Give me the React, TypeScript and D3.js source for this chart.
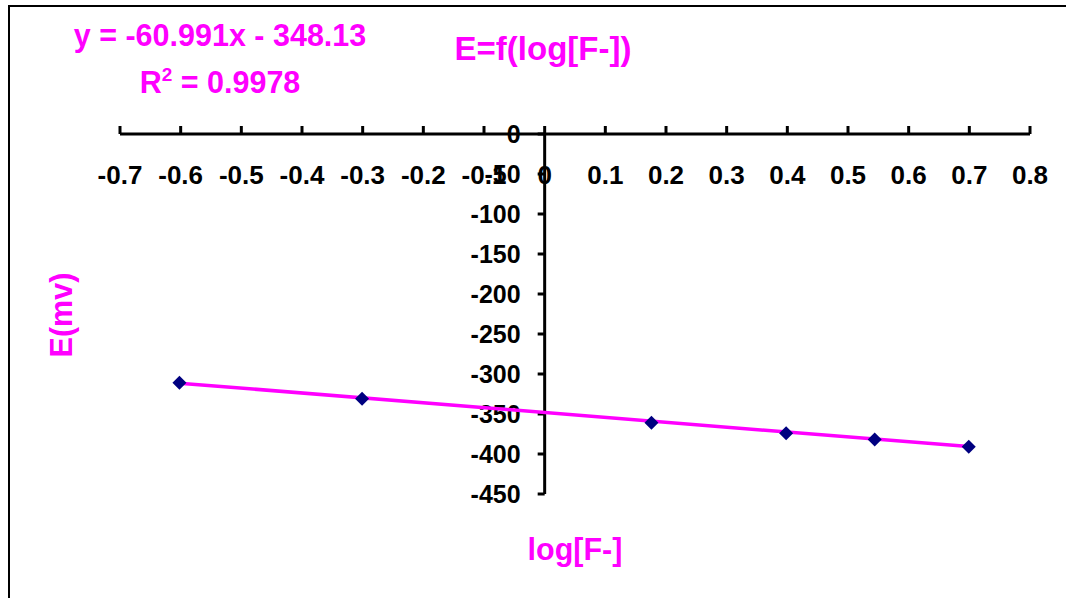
import * as d3 from "d3";

// log[F-] and measured potential (mV)
const logF = [-0.602, -0.301, 0.176, 0.398, 0.544, 0.699];
const potential = [-311, -331, -361, -374, -382, -391];

const xTicks = [-0.7, -0.6, -0.5, -0.4, -0.3, -0.2, -0.1, 0, 0.1, 0.2, 0.3, 0.4, 0.5, 0.6, 0.7, 0.8];
const yTicks = [0, -50, -100, -150, -200, -250, -300, -350, -400, -450];

const slope = -60.991;
const intercept = -348.13;

const W = 1066;
const H = 598;
const FONT = "'Liberation Sans', Arial, sans-serif";
const MAGENTA = "#ff00ff";

export default function App() {
  const x = d3.scaleLinear().domain([-0.7, 0.8]).range([120, 1030]);
  const y = d3.scaleLinear().domain([0, -450]).range([134, 494]);

  const x0 = x(0);
  const y0 = y(0);

  const fitX = d3.extent(logF) as [number, number];
  const trend = d3
    .line<number>()
    .x(d => x(d))
    .y(d => y(slope * d + intercept))(fitX);

  const diamond = d3.symbol(d3.symbolDiamond2, 125)();

  return (
    <svg
      width={W}
      height={H}
      style={{ position: "absolute", left: 0, top: 0, background: "#fff" }}
      fontFamily={FONT}
      fontWeight="bold"
    >
      {/* chart area frame (only top and left edges visible) */}
      <line x1={9} x2={W} y1={6} y2={6} stroke="#000" strokeWidth={2} />
      <line x1={9} x2={9} y1={5} y2={H} stroke="#000" strokeWidth={2} />

      {/* x axis */}
      <line x1={x(-0.7)} x2={x(0.8)} y1={y0} y2={y0} stroke="#000" strokeWidth={3} />
      {xTicks.map(t => (
        <g key={"x" + t}>
          <line x1={x(t)} x2={x(t)} y1={y0 - 8} y2={y0} stroke="#000" strokeWidth={3} />
          <text x={x(t)} y={184} fontSize={26} textAnchor="middle" fill="#000">
            {t === 0 ? "0" : d3.format(".1f")(t).replace("−", "-")}
          </text>
        </g>
      ))}

      {/* y axis */}
      <line x1={x0} x2={x0} y1={y0} y2={y(-450)} stroke="#000" strokeWidth={3} />
      {yTicks.map(t => (
        <g key={"y" + t}>
          <line x1={x0 - 7} x2={x0} y1={y(t)} y2={y(t)} stroke="#000" strokeWidth={3} />
          <text x={x0 - 24} y={y(t) + 9} fontSize={25} textAnchor="end" fill="#000">
            {String(t)}
          </text>
        </g>
      ))}

      {/* trendline */}
      <path d={trend ?? ""} fill="none" stroke={MAGENTA} strokeWidth={3.5} />

      {/* points */}
      {logF.map((v, i) => (
        <path
          key={"p" + i}
          d={diamond ?? ""}
          transform={`translate(${x(v)},${y(potential[i])})`}
          fill="#000080"
        />
      ))}

      {/* texts */}
      <text x={220} y={46} fontSize={30.5} textAnchor="middle" fill={MAGENTA}>
        y = -60.991x - 348.13
      </text>
      <text x={220} y={93} fontSize={30.5} textAnchor="middle" fill={MAGENTA}>
        R<tspan dy={-12} fontSize={19}>2</tspan>
        <tspan dy={12}> = 0.9978</tspan>
      </text>
      <text x={543} y={60} fontSize={33} textAnchor="middle" fill={MAGENTA}>
        E=f(log[F-])
      </text>
      <text x={575} y={560} fontSize={30.5} textAnchor="middle" fill={MAGENTA}>
        log[F-]
      </text>
      <text
        transform={`translate(72,315) rotate(-90)`}
        fontSize={30.5}
        textAnchor="middle"
        fill={MAGENTA}
      >
        E(mv)
      </text>
    </svg>
  );
}
